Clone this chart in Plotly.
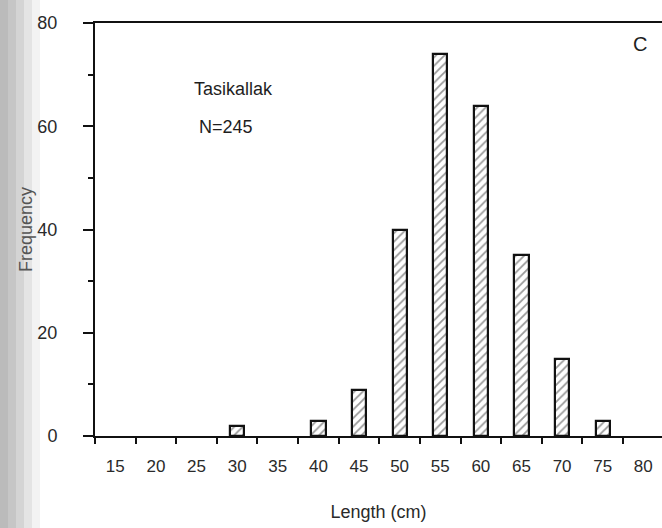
import plotly.graph_objects as go

# Length-frequency histogram, 5 cm classes
length_classes = [30, 40, 45, 50, 55, 60, 65, 70, 75]
frequency = [2, 3, 9, 40, 74, 64, 35, 15, 3]
tick_labels = [15, 20, 25, 30, 35, 40, 45, 50, 55, 60, 65, 70, 75, 80]
y_ticks = [0, 20, 40, 60, 80]

site_name = "Tasikallak"
sample_size = "N=245"
panel_letter = "C"

W, H = 662, 528
M_L, M_R, M_T, M_B = 95, 0, 23, 92
plot_w = W - M_L - M_R
FONT = "Liberation Sans, Arial, sans-serif"
INK = "#1e1e1e"

fig = go.Figure()
fig.add_trace(go.Bar(
    x=length_classes,
    y=frequency,
    width=1.75,
    marker=dict(
        color="white",
        line=dict(color="#111", width=2.2),
        pattern=dict(shape="/", fgcolor="#333", bgcolor="white",
                     size=6, solidity=0.3),
    ),
    showlegend=False,
))

# soft grey band along the left edge of the sheet
left_edge = -M_L / plot_w
for width_px, alpha in [(40, 0.07), (32, 0.09), (24, 0.1), (16, 0.1), (8, 0.09)]:
    fig.add_shape(type="rect", xref="paper", yref="paper",
                  x0=left_edge, x1=left_edge + width_px / plot_w,
                  y0=-0.3, y1=1.2, line_width=0,
                  fillcolor=f"rgba(80,80,80,{alpha})", layer="below")

fig.add_annotation(x=24.4, y=67.2, text=site_name, showarrow=False,
                   xanchor="left", yanchor="middle",
                   font=dict(family=FONT, size=18, color=INK))
fig.add_annotation(x=25.0, y=59.8, text=sample_size, showarrow=False,
                   xanchor="left", yanchor="middle",
                   font=dict(family=FONT, size=18, color=INK))
fig.add_annotation(x=79.6, y=76.0, text=panel_letter, showarrow=False,
                   xanchor="center", yanchor="middle",
                   font=dict(family=FONT, size=20, color=INK))

fig.update_layout(
    width=W, height=H,
    margin=dict(l=M_L, r=M_R, t=M_T, b=M_B, autoexpand=False),
    paper_bgcolor="white", plot_bgcolor="white",
    bargap=0,
    font=dict(family=FONT, color=INK),
    xaxis=dict(
        range=[12.5, 82.3],
        tickmode="array", tickvals=tick_labels,
        ticktext=[str(v) for v in tick_labels],
        ticks="", ticklabelstandoff=14,
        tickfont=dict(size=17, color="#2a2a2a"),
        showgrid=False, zeroline=False,
        showline=True, linecolor="#111", linewidth=2, mirror=True,
        minor=dict(tick0=12.5, dtick=5, ticks="outside", ticklen=6,
                   tickcolor="#111", tickwidth=1.5, showgrid=False),
        title=dict(text="Length (cm)", font=dict(size=18, color="#2a2a2a"),
                   standoff=30),
        fixedrange=True,
    ),
    yaxis=dict(
        range=[0, 80],
        tickmode="array", tickvals=y_ticks,
        ticks="outside", ticklen=10, tickwidth=2, tickcolor="#111",
        ticklabelstandoff=22,
        tickfont=dict(size=18, color="#2a2a2a"),
        showgrid=False, zeroline=False,
        showline=True, linecolor="#111", linewidth=2,
        minor=dict(dtick=10, ticks="outside", ticklen=5,
                   tickcolor="#111", tickwidth=1.5, showgrid=False),
        title=dict(text="Frequency", font=dict(size=18, color="#555"),
                   standoff=0),
        fixedrange=True,
    ),
)

fig.write_html("out.html")
